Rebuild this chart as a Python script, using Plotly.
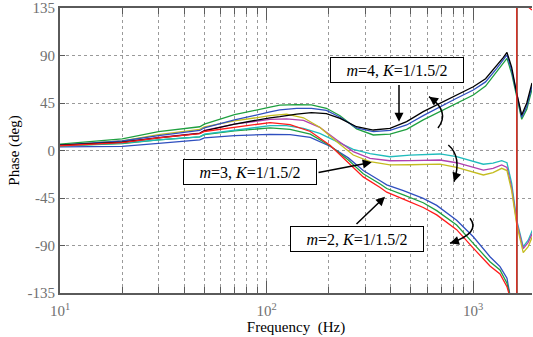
import plotly.graph_objects as go
import math

# ---------------- data ----------------
# m = 4 group
f4 = [10, 20, 30, 47.5, 50, 70, 104, 116, 140, 165, 195, 227, 273, 329, 396, 477, 574,
      692, 833, 1003, 1150, 1300, 1400, 1460, 1538, 1628, 1721, 1821, 1930]
black4 = [5, 8, 12, 16.3, 18.5, 25, 31, 32, 34.5, 35.8, 35, 30.5, 22.5, 19.4, 21, 27.3, 36.8,
          44.7, 52.6, 60.4, 68, 80, 88, 93, 79, 54, 33.6, 45, 64]
blue4 = [5, 9, 14, 19, 21.5, 29, 36.5, 38.4, 40, 40, 38, 31.5, 21.5, 17.8, 19, 24.2, 33,
         41.5, 49.5, 57.3, 65, 77.5, 85.5, 90.5, 76, 52, 31.5, 42, 61]
green4 = [6, 11, 17.8, 22.5, 25, 34, 41, 43, 43.5, 43.3, 40, 33, 20.5, 14.7, 15.5, 20, 29,
          36.8, 45, 52.6, 61, 74, 82, 87.3, 73, 50, 29.6, 39, 58]

# m = 3 group
f3 = [10, 20, 30, 47.5, 50, 70, 104, 125, 151, 181, 219, 263, 317, 396, 495, 692, 833,
      1000, 1122, 1250, 1377, 1460, 1538, 1628, 1750, 1850, 1953]
cyan3 = [4.5, 7, 10, 13, 15.5, 19.5, 23.5, 23.5, 21, 16.3, 8.4, 1, -3, -5.9, -4.3, -3.3, -5.9,
         -10, -13, -12, -9.7, -11.6, -31, -66, -91, -85, -74]
magenta3 = [4.8, 8, 12.5, 16.5, 19, 25, 29.5, 30, 28.5, 22, 10, -1, -7.4, -9.7, -9.5, -9, -11.6,
            -15.5, -18.5, -17, -13.7, -16, -35, -68, -93, -87, -77]
yellow3 = [5, 9, 15, 20, 22.5, 28, 33, 34.5, 31, 22, 8.4, -4.3, -10.6, -13.7, -13.5, -13, -16,
           -20, -23.2, -21, -16.9, -19, -38, -70, -96.8, -91, -80]

# m = 2 group (phase wraps from -180 to +180 near 1630 Hz)
f2 = [10, 20, 30, 47.5, 50, 70, 104, 130, 163, 203, 249, 294, 355, 382, 460, 574, 667,
      833, 1003, 1208, 1351, 1460, 1500, 1560, 1630, 1630, 1680, 1720, 1800, 1930]
red2 = [4.5, 7.5, 12, 16, 18, 22, 26.5, 24.5, 18, 5, -12, -25, -35, -39.5, -46, -54, -61,
        -75, -92.5, -109.4, -117, -129, -137, -160, -180, 180, 150, 136, 138, 133]
green2 = [4.5, 6.5, 10, 13, 15, 18.5, 21.5, 20, 15.5, 4.5, -9, -22, -31.7, -36, -42, -49.5, -57,
          -70.6, -88, -105.4, -113.2, -125.8, -135, -158, -180, 180, 160, 147, 148, 146]
blue2 = [3.5, 4, 6.8, 10, 12, 14, 15.3, 15, 12.5, 4, -7, -19, -28.6, -32.5, -38, -45.3, -52,
         -66, -81.7, -100.6, -110, -121, -134, -156, -180, 180, 168, 155, 156, 154]

x_tick_vals = [10, 100, 1000]
x_tick_text = ["10<sup>1</sup>", "10<sup>2</sup>", "10<sup>3</sup>"]
x_minor_vals = [d * 10 ** e for e in (1, 2, 3) for d in range(2, 10) if d * 10 ** e <= 2000]
y_tick_vals = [-135, -90, -45, 0, 45, 90, 135]
y_tick_text = ["-135", "-90", "-45", "0", "45", "90", "135"]

labels = {
    "m4": "<i>m</i>=4, <i>K</i>=1/1.5/2",
    "m3": "<i>m</i>=3, <i>K</i>=1/1.5/2",
    "m2": "<i>m</i>=2, <i>K</i>=1/1.5/2",
}

# ---------------- styling ----------------
C_BLACK = "#000000"
C_BLUE = "#2f4fbf"
C_GREEN = "#1fa040"
C_RED = "#ff1a1a"
C_CYAN = "#20bcbc"
C_MAG = "#b040b0"
C_YEL = "#c4bc20"
LW = 1.3
SERIF = "Liberation Serif"

W, H = 533, 337
ML, MR, MT, MB = 60, 1, 8, 44
PW, PH = W - ML - MR, H - MT - MB


def px(x):
    return (x - ML) / PW


def py(y):
    return (MT + PH - y) / PH


fig = go.Figure()
series = [
    (f2, blue2, C_BLUE), (f2, green2, C_GREEN),
    (f3, cyan3, C_CYAN), (f3, magenta3, C_MAG), (f3, yellow3, C_YEL),
    (f4, green4, C_GREEN), (f4, blue4, C_BLUE), (f4, black4, C_BLACK),
    (f2, red2, C_RED),
]
for xs, ys, c in series:
    fig.add_trace(go.Scatter(x=xs, y=ys, mode="lines",
                             line=dict(color=c, width=LW),
                             showlegend=False, hoverinfo="skip"))

GRID = "#9a9a9a"
AXC = "#5a5a5a"
fig.update_xaxes(
    type="log", range=[1, math.log10(1930)],
    tickmode="array", tickvals=x_tick_vals, ticktext=x_tick_text,
    ticks="inside", ticklen=12, tickcolor=AXC, tickwidth=1,
    showline=True, linecolor=AXC, linewidth=2, mirror="ticks",
    showgrid=True, gridcolor=GRID, griddash="dot", gridwidth=1,
    minor=dict(tickmode="array", tickvals=x_minor_vals, ticks="inside", ticklen=6,
               tickcolor=AXC, showgrid=True, gridcolor=GRID, griddash="dot", gridwidth=1),
    tickfont=dict(family=SERIF, size=15, color="#707070"),
    ticklabelstandoff=3,
    title=dict(text="Frequency  (Hz)", font=dict(family=SERIF, size=15, color="#000"),
               standoff=0),
    zeroline=False,
)
fig.update_yaxes(
    range=[-135, 135], tickmode="array", tickvals=y_tick_vals, ticktext=y_tick_text,
    ticks="inside", ticklen=5, tickcolor=AXC,
    showline=True, linecolor=AXC, linewidth=2, mirror=False,
    showgrid=True, gridcolor=GRID, griddash="dot", gridwidth=1,
    tickfont=dict(family=SERIF, size=15, color="#707070"),
    title=dict(text="Phase (deg)", font=dict(family=SERIF, size=15, color="#000"),
               standoff=4),
    zeroline=False,
)

annotations = []
# label boxes
for key, cx, cy in [("m4", 397, 70), ("m3", 249.7, 172.3), ("m2", 357, 239)]:
    annotations.append(dict(
        xref="paper", yref="paper", x=px(cx), y=py(cy), text=labels[key],
        showarrow=False, font=dict(family=SERIF, size=16, color="#000"),
        bordercolor="#000", borderwidth=1, borderpad=0, bgcolor="#fff",
        width=132, height=24, xanchor="center", yanchor="middle"))

# straight arrows: head (x,y), tail (x,y)
for hx, hy, tx, ty in [(399, 121.7, 399, 83.5), (371.7, 162.3, 317, 172.7),
                       (385, 196.7, 355, 225.5)]:
    annotations.append(dict(
        xref="paper", yref="paper", x=px(hx), y=py(hy), ax=tx - hx, ay=ty - hy,
        axref="pixel", ayref="pixel", text="", showarrow=True,
        arrowhead=2, arrowsize=1.2, arrowwidth=1.5, arrowcolor="#000"))

shapes = []
# curved arrows: start, control, end (pixels)
curves = [((438, 128), (450.5, 111.6), (429, 96.7)),
          ((448.3, 145), (462.2, 156.7), (454, 181.7)),
          ((470, 218.3), (481.3, 232.6), (450, 243.3))]
for p0, c, p1 in curves:
    path = "M {:.4f},{:.4f} Q {:.4f},{:.4f} {:.4f},{:.4f}".format(
        px(p0[0]), py(p0[1]), px(c[0]), py(c[1]), px(p1[0]), py(p1[1]))
    shapes.append(dict(type="path", xref="paper", yref="paper", path=path,
                       line=dict(color="#000", width=1.5)))
    dx, dy = p1[0] - c[0], p1[1] - c[1]
    n = math.hypot(dx, dy)
    ux, uy = dx / n, dy / n
    annotations.append(dict(
        xref="paper", yref="paper", x=px(p1[0]), y=py(p1[1]),
        ax=-ux * 9, ay=-uy * 9, axref="pixel", ayref="pixel", text="",
        showarrow=True, arrowhead=2, arrowsize=1.2, arrowwidth=1.5, arrowcolor="#000"))

fig.update_layout(
    width=W, height=H,
    margin=dict(l=ML, r=MR, t=MT, b=MB, autoexpand=False),
    paper_bgcolor="#fff", plot_bgcolor="#fff",
    annotations=annotations, shapes=shapes, showlegend=False,
)
fig.write_html("out.html")
